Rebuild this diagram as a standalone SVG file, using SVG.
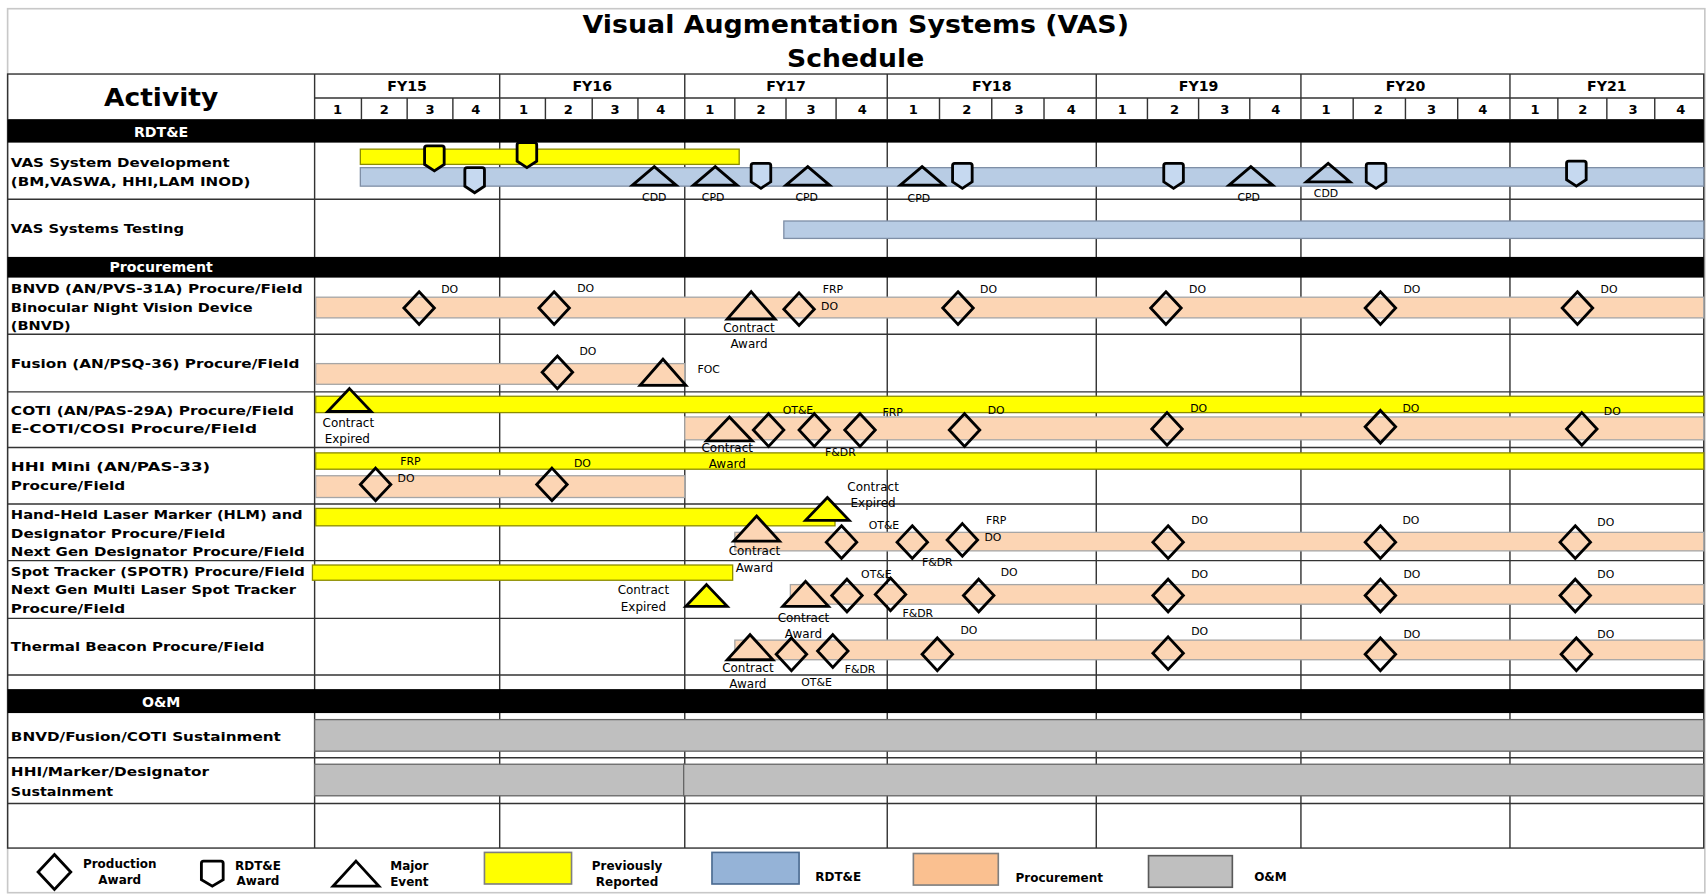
<svg xmlns="http://www.w3.org/2000/svg" width="1707" height="895" viewBox="0 0 1707 895">
<style>
.t{font-family:"DejaVu Sans","Liberation Sans",sans-serif;fill:#000}
.act{font-size:12px;font-weight:bold}
.sm{font-size:10px;text-anchor:middle}
.ca{font-size:11px;text-anchor:middle}
.fy{font-size:13px;font-weight:bold;text-anchor:middle}
.q{font-size:12px;font-weight:bold;text-anchor:middle}
.sec{font-size:13px;font-weight:bold;fill:#fff;text-anchor:middle}
.lg{font-size:11px;font-weight:bold;text-anchor:middle}
.grid{stroke:#333;stroke-width:1.3;fill:none}
.yel{fill:#ffff00;stroke:#8c8c00;stroke-width:1.2}
.blu{fill:#b8cce4;stroke:#7f8fa6;stroke-width:1.2}
.org{fill:#fcd5b4;stroke:#a6a6a6;stroke-width:1.2}
.gry{fill:#bfbfbf;stroke:#666;stroke-width:1.2}
.mk{stroke:#000;stroke-width:2.6;stroke-linejoin:miter}
</style>
<defs>
<path id="dia" d="M0,-15 L14,0 L0,15 L-14,0 Z"/>
<path id="shd" d="M-9,2 Q-9,0 -7,0 H7 Q9,0 9,2 V17 L0,23 L-9,17 Z"/>
</defs>
<rect x="0" y="0" width="1707" height="895" fill="#fff"/>
<g transform="scale(1.08865)">
<rect x="7" y="8" width="1559" height="812" fill="#fff" stroke="#c8c8c8" stroke-width="1.5"/>
<g id="title">
<text class="t" x="786" y="30" font-size="22" font-weight="bold" text-anchor="middle" textLength="502" lengthAdjust="spacingAndGlyphs">Visual Augmentation Systems (VAS)</text>
<text class="t" x="786" y="62" font-size="22" font-weight="bold" text-anchor="middle" textLength="126" lengthAdjust="spacingAndGlyphs">Schedule</text>
</g>
<g id="header">
<text class="t" x="148" y="97" font-size="22" font-weight="bold" text-anchor="middle" textLength="105" lengthAdjust="spacingAndGlyphs">Activity</text>
<text class="t fy" x="374" y="84">FY15</text>
<text class="t fy" x="544" y="84">FY16</text>
<text class="t fy" x="722" y="84">FY17</text>
<text class="t fy" x="911" y="84">FY18</text>
<text class="t fy" x="1101" y="84">FY19</text>
<text class="t fy" x="1291" y="84">FY20</text>
<text class="t fy" x="1476" y="84">FY21</text>
<g class="t q">
<text x="310" y="105">1</text><text x="353" y="105">2</text><text x="395" y="105">3</text><text x="437" y="105">4</text>
<text x="481" y="105">1</text><text x="522" y="105">2</text><text x="565" y="105">3</text><text x="607" y="105">4</text>
<text x="652" y="105">1</text><text x="699" y="105">2</text><text x="745" y="105">3</text><text x="792" y="105">4</text>
<text x="839" y="105">1</text><text x="888" y="105">2</text><text x="936" y="105">3</text><text x="984" y="105">4</text>
<text x="1031" y="105">1</text><text x="1079" y="105">2</text><text x="1125" y="105">3</text><text x="1172" y="105">4</text>
<text x="1218" y="105">1</text><text x="1266" y="105">2</text><text x="1315" y="105">3</text><text x="1362" y="105">4</text>
<text x="1410" y="105">1</text><text x="1454" y="105">2</text><text x="1500" y="105">3</text><text x="1544" y="105">4</text>
</g>
</g>
<g id="grid" class="grid">
<rect x="7" y="68" width="1558" height="711"/>
<path d="M289,90 H1565 M7,110 H1565"/>
<path d="M289,68 V779 M459,68 V779 M629,68 V779 M815,68 V779 M1007,68 V779 M1195,68 V779 M1387,68 V779"/>
<path d="M332,90 V110 M374,90 V110 M416,90 V110 M501,90 V110 M544,90 V110 M586,90 V110 M675,90 V110 M722,90 V110 M768,90 V110 M863,90 V110 M911,90 V110 M959,90 V110 M1054,90 V110 M1101,90 V110 M1148,90 V110 M1243,90 V110 M1291,90 V110 M1339,90 V110 M1431,90 V110 M1476,90 V110 M1520,90 V110"/>
<path d="M7,183 H1565 M7,307 H1565 M7,360 H1565 M7,411 H1565 M7,463 H1565 M7,515 H1565 M7,568 H1565 M7,620 H1565 M7,696 H1565 M7,738 H1565"/>
</g>
<g id="sections">
<rect x="7" y="110" width="1558" height="21" fill="#000"/>
<text class="t sec" x="148" y="126">RDT&amp;E</text>
<rect x="7" y="236" width="1558" height="19" fill="#000"/>
<text class="t sec" x="148" y="250">Procurement</text>
<rect x="7" y="633" width="1558" height="22" fill="#000"/>
<text class="t sec" x="148" y="649">O&amp;M</text>
</g>
<g id="activities" class="t act">
<text x="10" y="153" textLength="201" lengthAdjust="spacingAndGlyphs">VAS System Development</text>
<text x="10" y="171" textLength="220" lengthAdjust="spacingAndGlyphs">(BM,VASWA, HHI,LAM INOD)</text>
<text x="10" y="214" textLength="159" lengthAdjust="spacingAndGlyphs">VAS Systems Testing</text>
<text x="10" y="269" textLength="268" lengthAdjust="spacingAndGlyphs">BNVD (AN/PVS-31A) Procure/Field</text>
<text x="10" y="287" textLength="222" lengthAdjust="spacingAndGlyphs">Binocular Night Vision Device</text>
<text x="10" y="303" textLength="55" lengthAdjust="spacingAndGlyphs">(BNVD)</text>
<text x="10" y="338" textLength="265" lengthAdjust="spacingAndGlyphs">Fusion (AN/PSQ-36) Procure/Field</text>
<text x="10" y="381" textLength="260" lengthAdjust="spacingAndGlyphs">COTI (AN/PAS-29A) Procure/Field</text>
<text x="10" y="398" textLength="226" lengthAdjust="spacingAndGlyphs">E-COTI/COSI  Procure/Field</text>
<text x="10" y="433" textLength="183" lengthAdjust="spacingAndGlyphs">HHI Mini (AN/PAS-33)</text>
<text x="10" y="450" textLength="105" lengthAdjust="spacingAndGlyphs">Procure/Field</text>
<text x="10" y="477" textLength="268" lengthAdjust="spacingAndGlyphs">Hand-Held Laser Marker (HLM) and</text>
<text x="10" y="494" textLength="197" lengthAdjust="spacingAndGlyphs">Designator  Procure/Field</text>
<text x="10" y="511" textLength="270" lengthAdjust="spacingAndGlyphs">Next Gen Designator Procure/Field</text>
<text x="10" y="529" textLength="270" lengthAdjust="spacingAndGlyphs">Spot Tracker (SPOTR) Procure/Field</text>
<text x="10" y="546" textLength="262" lengthAdjust="spacingAndGlyphs">Next Gen Multi Laser Spot Tracker</text>
<text x="10" y="563" textLength="105" lengthAdjust="spacingAndGlyphs">Procure/Field</text>
<text x="10" y="598" textLength="233" lengthAdjust="spacingAndGlyphs">Thermal Beacon Procure/Field</text>
<text x="10" y="681" textLength="248" lengthAdjust="spacingAndGlyphs">BNVD/Fusion/COTI Sustainment</text>
<text x="10" y="713" textLength="182" lengthAdjust="spacingAndGlyphs">HHI/Marker/Designator</text>
<text x="10" y="731" textLength="94" lengthAdjust="spacingAndGlyphs">Sustainment</text>
</g>
<g id="row-vas-dev">
<rect class="yel" x="331" y="137" width="348" height="14"/>
<rect class="blu" x="331" y="154" width="1234" height="17"/>
<use href="#shd" class="mk" fill="#ffff00" transform="translate(399,134)"/>
<use href="#shd" class="mk" fill="#ffff00" transform="translate(484,131)"/>
<use href="#shd" class="mk" fill="#c6d9f0" transform="translate(436,154)"/>
<use href="#shd" class="mk" fill="#c6d9f0" transform="translate(699,150)"/>
<use href="#shd" class="mk" fill="#c6d9f0" transform="translate(884,150)"/>
<use href="#shd" class="mk" fill="#c6d9f0" transform="translate(1078,150)"/>
<use href="#shd" class="mk" fill="#c6d9f0" transform="translate(1264,150)"/>
<use href="#shd" class="mk" fill="#c6d9f0" transform="translate(1448,148)"/>
<g class="mk" fill="none">
<polygon points="601,153 621,170 581,170"/>
<polygon points="657,153 677,170 637,170"/>
<polygon points="742,153 762,170 722,170"/>
<polygon points="847,153 867,170 827,170"/>
<polygon points="1149,153 1169,170 1129,170"/>
<polygon points="1220,150 1240,167 1200,167"/>
</g>
</g>
<g id="row-vas-testing">
<rect class="blu" x="720" y="203" width="845" height="16"/>
</g>
<g id="row-bnvd">
<rect class="org" x="290" y="273" width="1275" height="19"/>
<polygon class="mk" fill="none" points="690,268 712,293 668,293"/>
<g class="mk" fill="none">
<use href="#dia" x="385" y="283"/><use href="#dia" x="509" y="283"/><use href="#dia" x="734" y="284"/>
<use href="#dia" x="880" y="283"/><use href="#dia" x="1071" y="283"/><use href="#dia" x="1268" y="283"/><use href="#dia" x="1449" y="283"/>
</g>
</g>
<g id="row-fusion">
<rect class="org" x="290" y="334" width="339" height="19"/>
<use href="#dia" class="mk" fill="none" x="512" y="342"/>
<polygon class="mk" fill="none" points="609,330 630,354 588,354"/>
</g>
<g id="row-coti">
<rect class="yel" x="290" y="364" width="1275" height="15"/>
<rect class="org" x="629" y="383" width="936" height="21"/>
<polygon class="mk" fill="#ffff00" points="321,357 341,378 301,378"/>
<polygon class="mk" fill="#fcd5b4" points="670,383 691,405 649,405"/>
<g class="mk" fill="none">
<use href="#dia" x="706" y="395"/><use href="#dia" x="748" y="395"/><use href="#dia" x="790" y="395"/>
<use href="#dia" x="886" y="395"/><use href="#dia" x="1072" y="394"/><use href="#dia" x="1268" y="392"/><use href="#dia" x="1453" y="394"/>
</g>
</g>
<g id="row-hhi">
<rect class="yel" x="290" y="416" width="1275" height="15"/>
<rect class="org" x="290" y="437" width="339" height="20"/>
<g class="mk" fill="none"><use href="#dia" x="345" y="445"/><use href="#dia" x="507" y="445"/></g>
</g>
<g id="row-hhlm">
<rect class="yel" x="290" y="467" width="477" height="16"/>
<rect class="org" x="675" y="489" width="890" height="17"/>
<polygon class="mk" fill="#ffff00" points="760,457 780,478 740,478"/>
<polygon class="mk" fill="#fcd5b4" points="695,474 716,497 674,497"/>
<g class="mk" fill="none">
<use href="#dia" x="773" y="498"/><use href="#dia" x="838" y="498"/><use href="#dia" x="884" y="496"/>
<use href="#dia" x="1073" y="498"/><use href="#dia" x="1268" y="498"/><use href="#dia" x="1447" y="498"/>
</g>
</g>
<g id="row-spotr">
<rect class="yel" x="287" y="519" width="386" height="14"/>
<rect class="org" x="726" y="537" width="839" height="18"/>
<polygon class="mk" fill="#ffff00" points="649,537 668,557 630,557"/>
<polygon class="mk" fill="#fcd5b4" points="740,534 761,557 719,557"/>
<g class="mk" fill="none">
<use href="#dia" x="778" y="547"/><use href="#dia" x="818" y="546"/><use href="#dia" x="899" y="547"/>
<use href="#dia" x="1073" y="547"/><use href="#dia" x="1268" y="547"/><use href="#dia" x="1447" y="547"/>
</g>
</g>
<g id="row-thermal">
<rect class="org" x="675" y="588" width="890" height="18"/>
<polygon class="mk" fill="#fcd5b4" points="689,583 710,606 668,606"/>
<g class="mk" fill="none">
<use href="#dia" x="727" y="601"/><use href="#dia" x="765" y="598"/><use href="#dia" x="861" y="601"/>
<use href="#dia" x="1073" y="600"/><use href="#dia" x="1268" y="601"/><use href="#dia" x="1448" y="601"/>
</g>
</g>
<g id="row-om">
<rect class="gry" x="289" y="661" width="1276" height="29"/>
<rect class="gry" x="289" y="702" width="339" height="29"/>
<rect class="gry" x="628" y="702" width="937" height="29"/>
</g>
<g id="milestone-labels">
<g class="t sm" font-size="9">
<text x="601" y="185">CDD</text><text x="655" y="185">CPD</text><text x="741" y="185">CPD</text>
<text x="844" y="186">CPD</text><text x="1147" y="185">CPD</text><text x="1218" y="181">CDD</text>
</g>
<g class="t sm">
<text x="413" y="269">DO</text><text x="538" y="268">DO</text><text x="765" y="269">FRP</text><text x="762" y="285">DO</text>
<text x="908" y="269">DO</text><text x="1100" y="269">DO</text><text x="1297" y="269">DO</text><text x="1478" y="269">DO</text>
<text x="540" y="326">DO</text><text x="651" y="343">FOC</text>
<text x="733" y="380">OT&amp;E</text><text x="820" y="382">FRP</text><text x="915" y="380">DO</text>
<text x="1101" y="378">DO</text><text x="1296" y="378">DO</text><text x="1481" y="381">DO</text>
<text x="772" y="419">F&amp;DR</text>
<text x="377" y="427">FRP</text><text x="373" y="443">DO</text><text x="535" y="429">DO</text>
<text x="812" y="486">OT&amp;E</text><text x="915" y="481">FRP</text><text x="912" y="497">DO</text><text x="861" y="520">F&amp;DR</text>
<text x="1102" y="481">DO</text><text x="1296" y="481">DO</text><text x="1475" y="483">DO</text>
<text x="805" y="531">OT&amp;E</text><text x="927" y="529">DO</text><text x="1102" y="531">DO</text><text x="1297" y="531">DO</text><text x="1475" y="531">DO</text>
<text x="843" y="567">F&amp;DR</text>
<text x="890" y="582">DO</text><text x="1102" y="583">DO</text><text x="1297" y="586">DO</text><text x="1475" y="586">DO</text>
<text x="790" y="618">F&amp;DR</text><text x="750" y="630">OT&amp;E</text>
</g>
<g class="t ca">
<text x="688" y="305">Contract</text><text x="688" y="320">Award</text>
<text x="320" y="392">Contract</text><text x="319" y="407">Expired</text>
<text x="668" y="415">Contract</text><text x="668" y="430">Award</text>
<text x="802" y="451">Contract</text><text x="802" y="466">Expired</text>
<text x="693" y="510">Contract</text><text x="693" y="525">Award</text>
<text x="591" y="546">Contract</text><text x="591" y="561">Expired</text>
<text x="738" y="571">Contract</text><text x="738" y="586">Award</text>
<text x="687" y="617">Contract</text><text x="687" y="632">Award</text>
</g>
</g>
<g id="legend">
<path class="mk" fill="none" d="M50,785 L65,801 L50,817 L35,801 Z"/>
<text class="t lg" x="110" y="797">Production</text><text class="t lg" x="110" y="812">Award</text>
<path class="mk" fill="none" d="M185,793 Q185,791 187,791 H203 Q205,791 205,793 V808 L195,814 L185,808 Z"/>
<text class="t lg" x="237" y="799">RDT&amp;E</text><text class="t lg" x="237" y="813">Award</text>
<polygon class="mk" fill="none" points="327,791 348,814 306,814"/>
<text class="t lg" x="376" y="799">Major</text><text class="t lg" x="376" y="814">Event</text>
<rect x="445" y="783" width="80" height="29" fill="#ffff00" stroke="#7f7f7f" stroke-width="1.5"/>
<text class="t lg" x="576" y="799">Previously</text><text class="t lg" x="576" y="814">Reported</text>
<rect x="654" y="783" width="80" height="29" fill="#95b3d7" stroke="#4a6a90" stroke-width="1.5"/>
<text class="t lg" x="770" y="809">RDT&amp;E</text>
<rect x="839" y="784" width="78" height="29" fill="#fac090" stroke="#7f7f7f" stroke-width="1.5"/>
<text class="t lg" x="973" y="810">Procurement</text>
<rect x="1055" y="786" width="77" height="29" fill="#bfbfbf" stroke="#595959" stroke-width="1.5"/>
<text class="t lg" x="1167" y="809">O&amp;M</text>
</g>
</g>
</svg>
